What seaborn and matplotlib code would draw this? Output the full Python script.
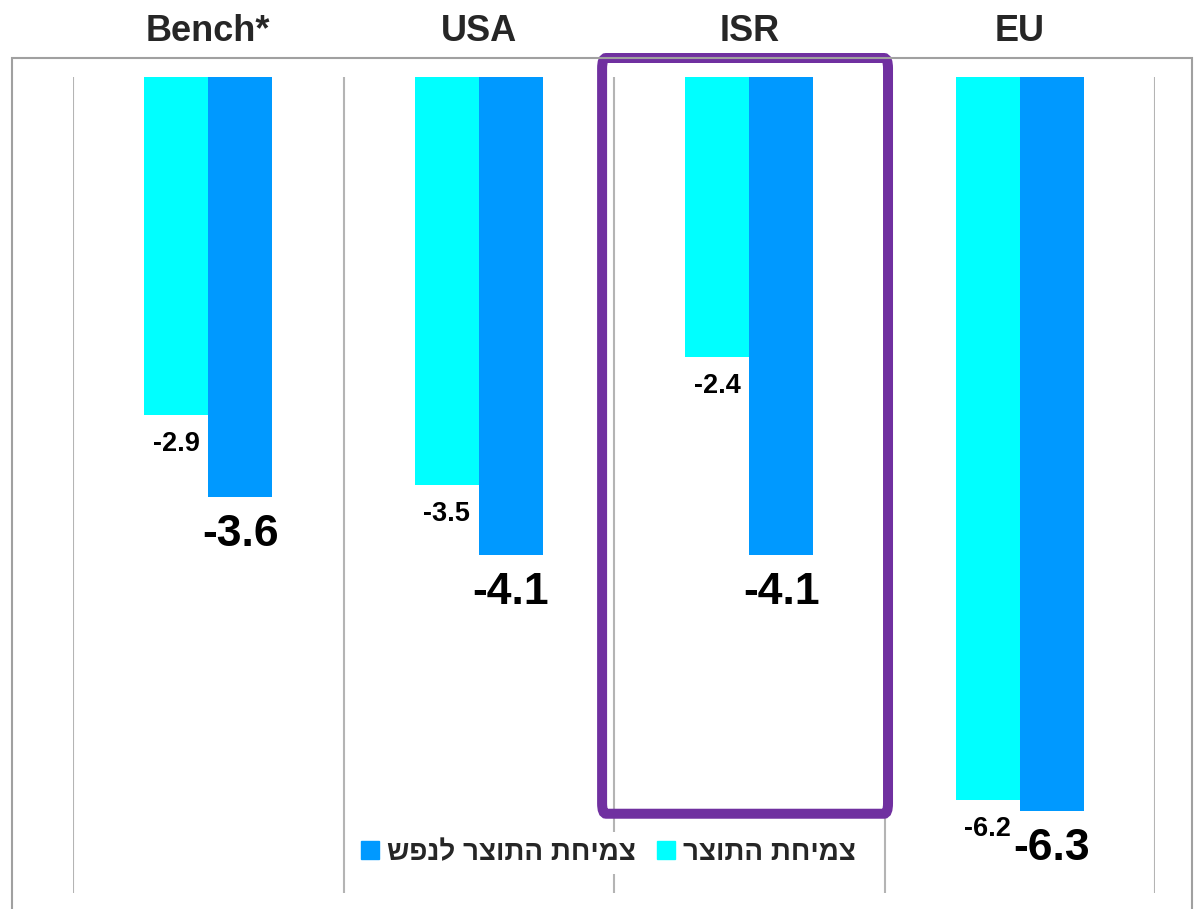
import numpy as np
import pandas as pd
import seaborn as sns
import matplotlib.pyplot as plt
from matplotlib.lines import Line2D
from matplotlib.patches import Rectangle, FancyBboxPatch

CYAN = "#00FFFF"
BLUE = "#0099FF"
PURPLE = "#7030A0"
GRID = "#B4B4B4"

categories = ["Bench*", "USA", "ISR", "EU"]
series = ["צמיחת התוצר", "צמיחת התוצר לנפש"]
gdp_growth = [-2.9, -3.5, -2.4, -6.2]
gdp_per_capita = [-3.6, -4.1, -4.1, -6.3]


def rtl(s):
  # matplotlib has no bidi support, so flip Hebrew text by hand
  return s[::-1]


def main():
  df = pd.DataFrame({
      "cat": categories * 2,
      "series": [series[0]] * 4 + [series[1]] * 4,
      "value": gdp_growth + gdp_per_capita,
  })

  sns.set_style("white")
  plt.rcParams["font.family"] = ["Liberation Sans", "DejaVu Sans"]

  fig = plt.figure(figsize=(11.96, 9.09), dpi=100)
  ax = fig.add_axes([73 / 1196, 1 - 893 / 909, (1155 - 73) / 1196, (893 - 77) / 909])

  sns.barplot(data=df, x="cat", y="value", hue="series", palette=[CYAN, BLUE],
              width=0.474, saturation=1, errorbar=None, legend=False, ax=ax,
              linewidth=0)

  ax.set_ylim(-7, 0)
  ax.set_xlim(-0.5, 3.5)
  for s in ax.spines.values():
    s.set_visible(False)
  ax.set_yticks([])
  ax.set_xlabel("")
  ax.set_ylabel("")

  # category labels on top
  ax.xaxis.tick_top()
  ax.set_xticks(range(len(categories)))
  ax.set_xticklabels(categories, fontsize=26, fontweight="bold", color="#262626")
  ax.tick_params(axis="x", which="major", length=0, pad=20)

  # separators between categories
  ax.set_xticks(np.arange(-0.5, 4, 1), minor=True)
  ax.tick_params(axis="x", which="minor", length=0)
  ax.grid(which="minor", axis="x", color=GRID, linewidth=1.5)
  ax.set_axisbelow(True)

  # value labels
  for i, cont in enumerate(ax.containers):
    for bar in cont:
      x = bar.get_x() + bar.get_width() / 2
      h = bar.get_height()
      if i == 0:
        ax.annotate(f"{h:.1f}", (x, h), xytext=(0, -21), textcoords="offset points",
                    ha="center", va="center", fontsize=19.5, fontweight="bold",
                    color="black", annotation_clip=False)
      else:
        ax.annotate(f"{h:.1f}", (x, h), xytext=(0, -27), textcoords="offset points",
                    ha="center", va="center", fontsize=32, fontweight="bold",
                    color="black", annotation_clip=False)

  # highlight box around ISR
  box = FancyBboxPatch((1.456, -6.32), 2.513 - 1.456, 0.163 + 6.32,
                       boxstyle="round,pad=0,rounding_size=0.015",
                       fill=False, edgecolor=PURPLE, linewidth=7.2,
                       clip_on=False, zorder=5, mutation_aspect=6)
  ax.add_patch(box)

  # legend
  handles = [
      Line2D([], [], marker="s", linestyle="none", markersize=13, color=BLUE),
      Line2D([], [], marker="s", linestyle="none", markersize=13, color=CYAN),
  ]
  labels = [rtl(series[1]), rtl(series[0])]
  fig.legend(handles, labels, loc="center", bbox_to_anchor=(608 / 1196, 1 - 853 / 909),
             ncol=2, frameon=True, facecolor="white", edgecolor="none", framealpha=1,
             prop={"size": 20, "weight": "bold"}, handletextpad=0.25,
             columnspacing=0.75, borderpad=0.3, handlelength=0.7)

  # outer chart frame
  fig.patches.append(Rectangle((12 / 1196, -0.05), (1192 - 12) / 1196, 1.05 - 58 / 909,
                               transform=fig.transFigure, fill=False,
                               edgecolor="#A0A0A0", linewidth=1.5, zorder=0))

  fig.savefig("out.png", dpi=100, facecolor="white")


if __name__ == "__main__":
  main()
